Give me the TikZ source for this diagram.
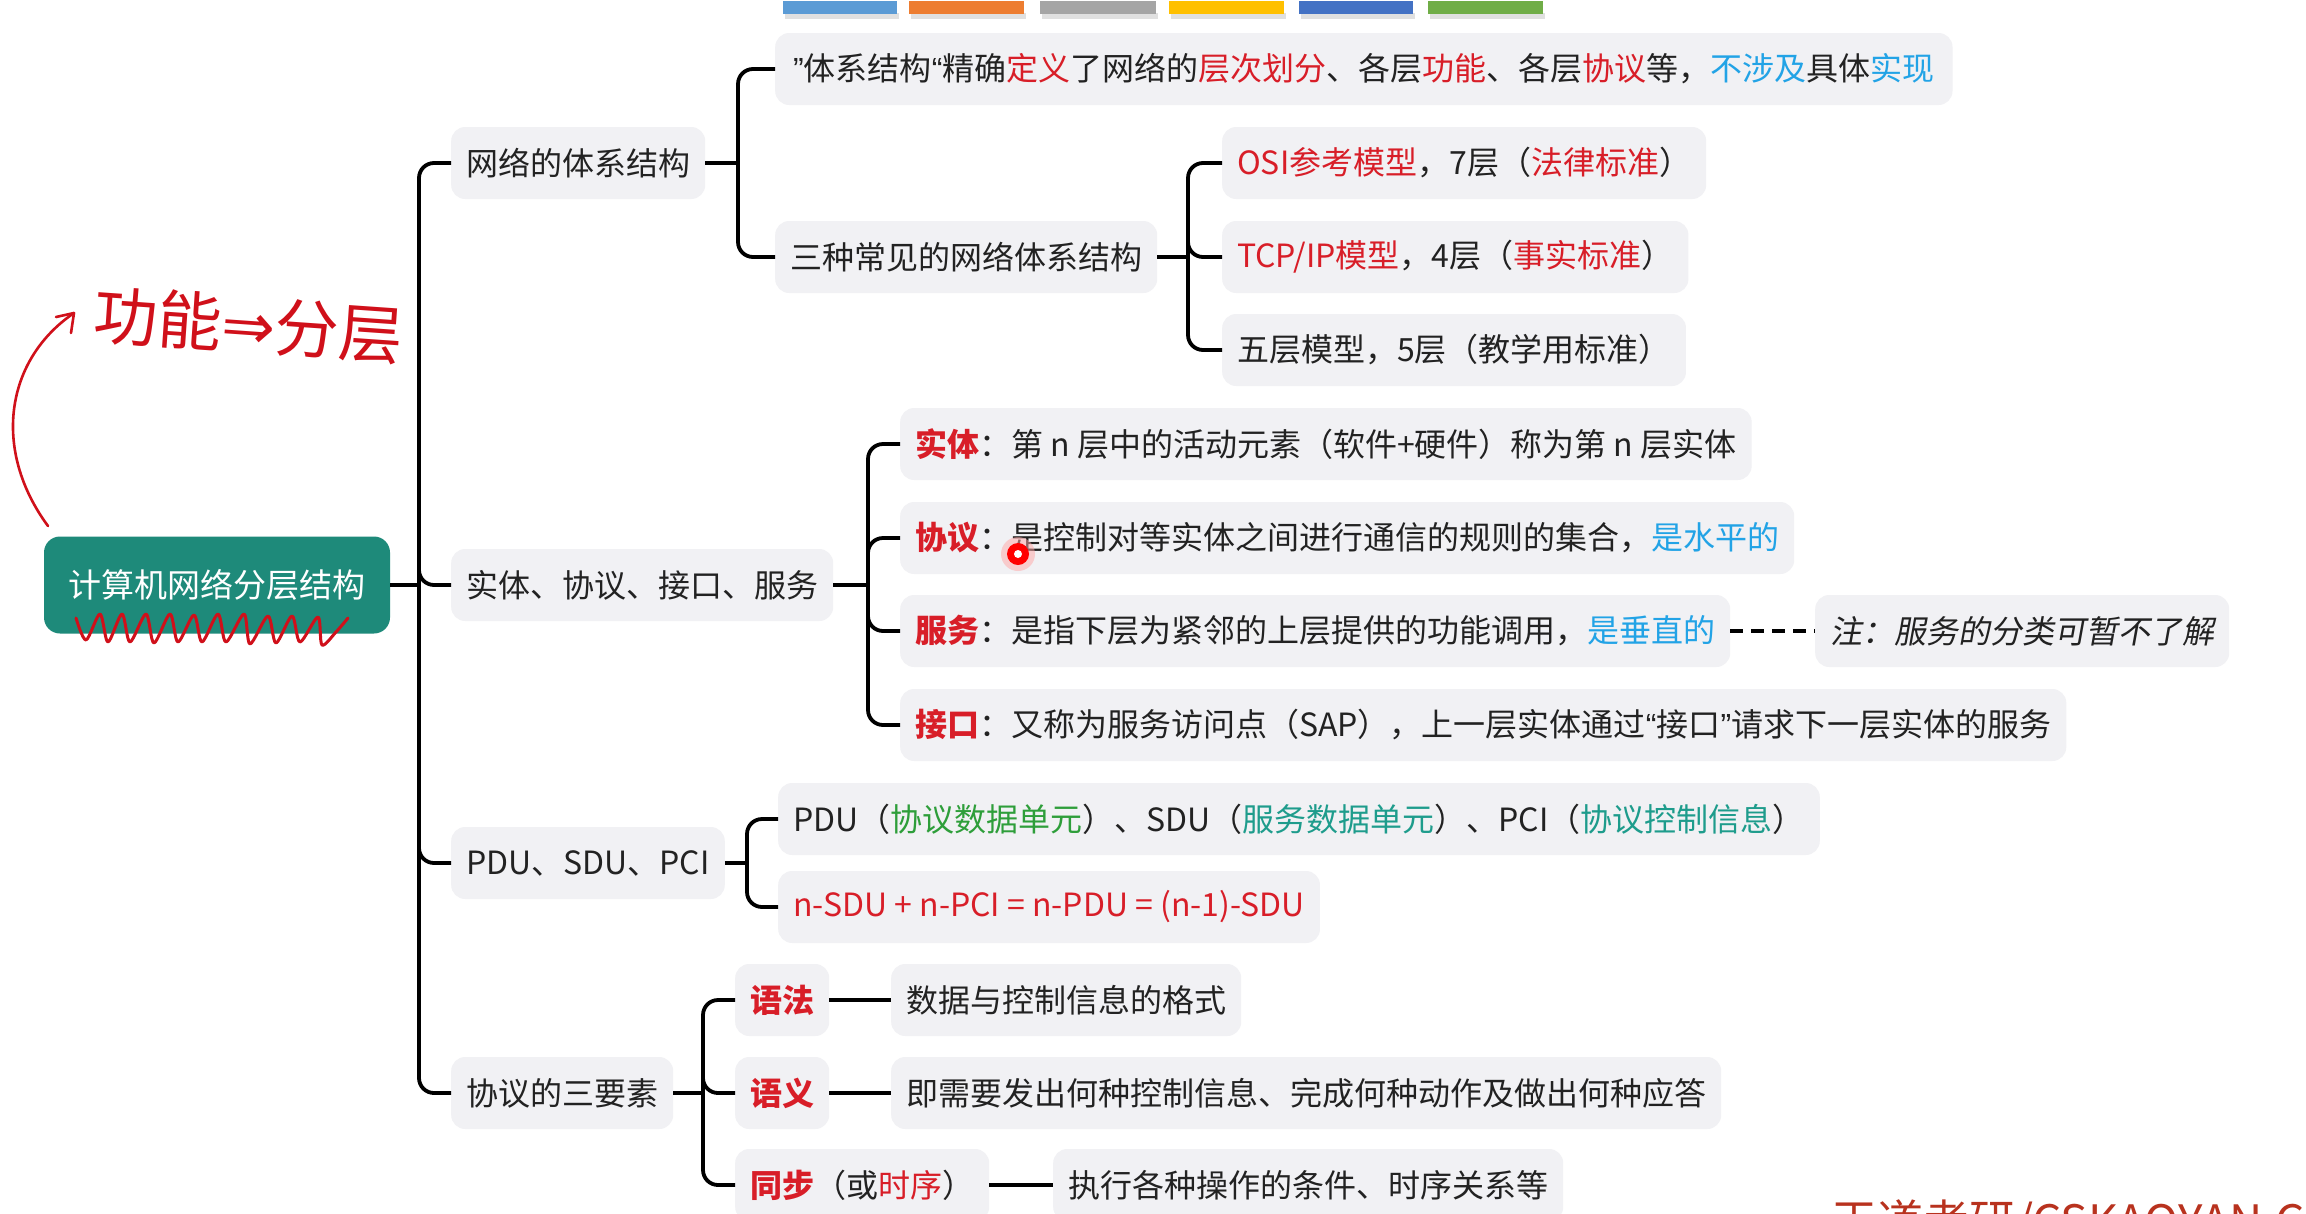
\documentclass[tikz,border=0pt]{standalone}
\usepackage{fontspec}
\setmainfont{Noto Sans CJK SC}
\newfontfamily\cjkslant[FakeSlant=0.18]{Noto Sans CJK SC}
\newfontfamily\symf{DejaVu Sans}
\newfontfamily\quotef{Liberation Sans}
\usetikzlibrary{calc}
\definecolor{myred}{HTML}{D81E28}
\definecolor{myblue}{HTML}{22A3E6}
\definecolor{mygreen}{HTML}{2E9E3A}
\definecolor{myteal}{HTML}{1E9C8C}
\definecolor{nodebg}{HTML}{F1F1F4}
\definecolor{rootbg}{HTML}{1E8A7A}
\definecolor{textc}{HTML}{222222}
\definecolor{hred}{HTML}{D0101A}
\definecolor{wmred}{HTML}{B8321E}
\newcommand\cred[1]{\textcolor{myred}{#1}}
\newcommand\cblue[1]{\textcolor{myblue}{#1}}
\newcommand\cgreen[1]{\textcolor{mygreen}{#1}}
\newcommand\cteal[1]{\textcolor{myteal}{#1}}
\begin{document}
\begin{tikzpicture}[x=1pt,y=-1pt,
  box/.style={fill=nodebg, rounded corners=14pt, minimum height=72pt, inner xsep=15pt,
    anchor=west, text=textc, font=\fontsize{32}{38}\selectfont},
  rootbox/.style={fill=rootbg, rounded corners=16pt, minimum width=346pt, minimum height=97pt,
    text=white, font=\fontsize{33}{38}\selectfont},
  conn/.style={line width=3.8pt, rounded corners=15pt, draw=black},
  note/.style={box, font=\fontsize{32}{38}\selectfont\cjkslant}
]
\useasboundingbox (0,0) rectangle (2306,1213);
\fill[white] (0,0) rectangle (2306,1213);

% colour bars
\foreach \xa/\xb/\c in {783/897/5B9BD5, 909/1024/ED7D31, 1040/1156/A5A5A5, 1169/1284/FFC000, 1299/1413/4472C4, 1428/1543/70AD47}{
  \fill[black!12] (\xa+2,13) rectangle (\xb+2,19);
  \definecolor{barc}{HTML}{\c}
  \fill[barc] (\xa,1) rectangle (\xb,14);
}

% root
\node[rootbox] (root) at (217,585) {\textcolor{white}{计算机网络分层结构}};

% level 1
\node[box] (n1) at (451,163) {网络的体系结构};
\node[box] (n2) at (451,585) {实体、协议、接口、服务};
\node[box] (n3) at (451,863) {PDU、SDU、PCI};
\node[box] (n4) at (451,1093) {协议的三要素};

% group 1
\node[box, inner xsep=18pt] (a1) at (775,69) {{\quotef ”}体系结构{\quotef “}精确\cred{定义}了网络的\cred{层次划分}、各层\cred{功能}、各层\cred{协议}等，\cblue{不涉及}具体\cblue{实现}};
\node[box] (a2) at (775,257) {三种常见的网络体系结构};
\node[box] (b1) at (1222,163) {\cred{OSI参考模型}，7层（\cred{法律标准}）};
\node[box] (b2) at (1222,257) {\cred{TCP/IP模型}，4层（\cred{事实标准}）};
\node[box] (b3) at (1222,350) {五层模型，5层（教学用标准）};

% group 2
\node[box] (c1) at (900,444) {\cred{\bfseries 实体}：第 n 层中的活动元素（软件+硬件）称为第 n 层实体};
\node[box] (c2) at (900,538) {\cred{\bfseries 协议}：是控制对等实体之间进行通信的规则的集合，\cblue{是水平的}};
\node[box] (c3) at (900,631) {\cred{\bfseries 服务}：是指下层为紧邻的上层提供的功能调用，\cblue{是垂直的}};
\node[box] (c4) at (900,725) {\cred{\bfseries 接口}：又称为服务访问点（SAP），上一层实体通过{\quotef “}接口{\quotef ”}请求下一层实体的服务};
\node[note] (c3n) at (1815,631) {注：服务的分类可暂不了解};

% group 3
\node[box] (d1) at (778,819) {PDU（\cgreen{协议数据单元}）、SDU（\cteal{服务数据单元}）、PCI（\cteal{协议控制信息}）};
\node[box] (d2) at (778,907) {\cred{n-SDU + n-PCI = n-PDU = (n-1)-SDU}};

% group 4
\node[box] (e1) at (735,1000) {\cred{\bfseries 语法}};
\node[box] (e2) at (735,1093) {\cred{\bfseries 语义}};
\node[box] (e3) at (735,1185) {\cred{\bfseries 同步}（或\cred{时序}）};
\node[box] (f1) at (891,1000) {数据与控制信息的格式};
\node[box] (f2) at (891,1093) {即需要发出何种控制信息、完成何种动作及做出何种应答};
\node[box] (f3) at (1053,1185) {执行各种操作的条件、时序关系等};

% junctions
\coordinate (j0) at (419,585);
\coordinate (j1) at (738,163);
\coordinate (j2) at (1188,257);
\coordinate (j3) at (868,585);
\coordinate (j4) at (747,863);
\coordinate (j5) at (703,1093);

% connectors
\draw[conn] (root.east) -- (j0);
\foreach \ch in {n1,n2,n3,n4} \draw[conn] (j0) |- (\ch.west);
\draw[conn] (n1.east) -- (j1);
\foreach \ch in {a1,a2} \draw[conn] (j1) |- (\ch.west);
\draw[conn] (a2.east) -- (j2);
\foreach \ch in {b1,b2,b3} \draw[conn] (j2) |- (\ch.west);
\draw[conn] (n2.east) -- (j3);
\foreach \ch in {c1,c2,c3,c4} \draw[conn] (j3) |- (\ch.west);
\draw[conn] (n3.east) -- (j4);
\foreach \ch in {d1,d2} \draw[conn] (j4) |- (\ch.west);
\draw[conn] (n4.east) -- (j5);
\foreach \ch in {e1,e2,e3} \draw[conn] (j5) |- (\ch.west);
\draw[conn] (e1.east) -- (f1.west);
\draw[conn] (e2.east) -- (f2.west);
\draw[conn] (e3.east) -- (f3.west);
\draw[line width=3.8pt, dash pattern=on 13pt off 8pt] (c3.east) -- (c3n.west);

% handwritten annotations
\node[text=hred, font=\fontsize{64}{64}\selectfont, anchor=west, rotate=-4, inner sep=0pt] (hw) at (94,314) {功能{\symf ⇒}分层};
\coordinate (hwa) at (48,526);
\coordinate (hwb) at (74,313);
\draw[hred, line width=2.6pt, line cap=round] (hwa) .. controls (-8,450) and (5,360) .. (hwb);
\draw[hred, line width=2.6pt, line cap=round, line join=round] ($(hwb)+(-18,4)$) -- (hwb) -- ($(hwb)+(-3,20)$);
\draw[hred, line width=3pt, line cap=round, line join=round] plot[smooth, tension=0.5] coordinates {
 (76,618) (86,640) (100,614) (108,642) (122,614) (130,642) (146,614) (154,643) (170,614) (178,642)
 (194,615) (202,642) (218,614) (226,642) (244,614) (250,644) (268,616) (276,643) (292,616) (300,642)
 (318,617) (322,645) (336,632) (348,618)};

% pointer dot
\fill[red!35, opacity=0.5] (1018,554) circle (17);
\fill[red] (1018,554) circle (11);
\fill[white] (1018,554) circle (4);

% watermark
\node[anchor=base west, text=wmred, font=\fontsize{46}{46}\selectfont, inner sep=0pt] (wm) at (1831,1238) {王道考研/CSKAOYAN.COM};
\end{tikzpicture}
\end{document}
